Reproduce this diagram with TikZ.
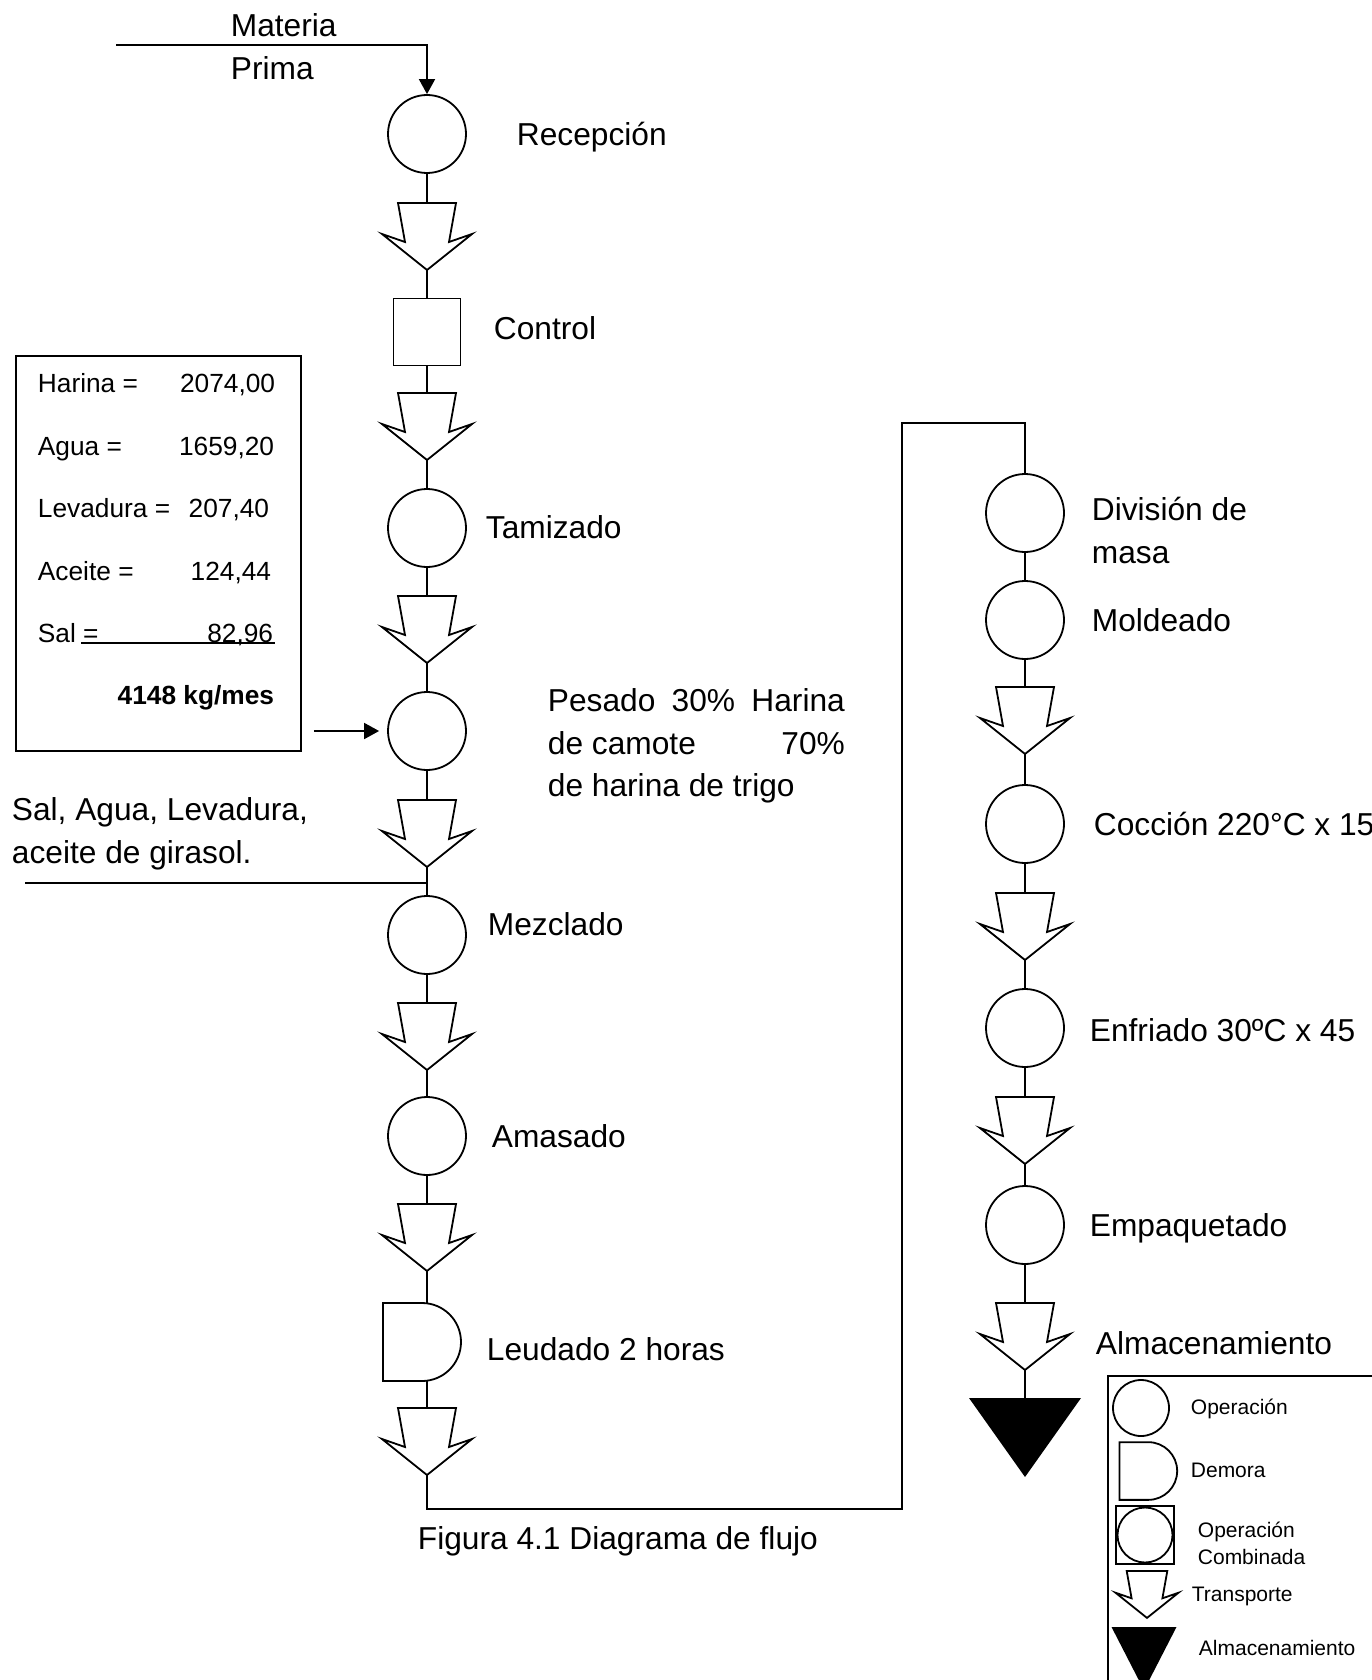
\documentclass[tikz,border=0pt]{standalone}
\usepackage{fontspec}
\setmainfont{Liberation Sans}
\usetikzlibrary{arrows.meta}

\begin{document}
\begin{tikzpicture}[x=1pt, y=-1pt, line width=1.8pt,
        op/.style={circle, draw, minimum size=78pt, inner sep=0pt},
        ctl/.style={rectangle, draw, minimum size=67pt, inner sep=0pt},
        lbl/.style={anchor=west, inner sep=0pt, text height=22.7pt, text depth=0pt,
                    font=\fontsize{31.7}{38}\selectfont},
        tab/.style={lbl, text height=18.8pt, font=\fontsize{26.3}{31}\selectfont},
        ley/.style={lbl, text height=15pt, font=\fontsize{21}{25}\selectfont},
        flecha/.style={-{Triangle[length=15pt,width=16pt]}},
        transp/.pic={
          \draw (-29,0) -- (-22,39) -- (-45,31) -- (0,67) -- (45,31) -- (22,39) -- (29,0) -- cycle;
          \coordinate (-n) at (0,0);
          \coordinate (-s) at (0,67);
        },
        demora/.pic={
          \draw (-44,-39) -- (-5,-39) arc[start angle=90, end angle=-90, radius=39pt] -- (-44,39) -- cycle;
          \coordinate (-n) at (0,-39);
          \coordinate (-s) at (0,39);
        },
        almac/.pic={
          \fill (-56,0) -- (56,0) -- (0,79) -- cycle;
          \coordinate (-n) at (0,0);
        }]
      \path[fill=white, use as bounding box] (0,0) rectangle (1371,1680);

      % columna izquierda
      \node[op] (rec) at (427,134) {};
      \pic (t1) at (427,203) {transp};
      \node[ctl] (ctrl) at (427,332) {};
      \pic (t2) at (427,393) {transp};
      \node[op] (tam) at (427,528) {};
      \pic (t3) at (427,596) {transp};
      \node[op] (pes) at (427,731) {};
      \pic (t4) at (427,800) {transp};
      \node[op] (mez) at (427,935) {};
      \pic (t5) at (427,1003) {transp};
      \node[op] (ama) at (427,1136) {};
      \pic (t6) at (427,1204) {transp};
      \pic (leu) at (427,1342) {demora};
      \pic (t7) at (427,1408) {transp};

      % columna derecha
      \node[op] (div) at (1025,513) {};
      \node[op] (mol) at (1025,620) {};
      \pic (t8) at (1025,687) {transp};
      \node[op] (coc) at (1025,824) {};
      \pic (t9) at (1025,893) {transp};
      \node[op] (enf) at (1025,1028) {};
      \pic (t10) at (1025,1097) {transp};
      \node[op] (emp) at (1025,1225) {};
      \pic (t11) at (1025,1303) {transp};
      \pic (alm) at (1025,1398) {almac};

      \coordinate (mp) at (116,45);
      \coordinate (sal) at (25,883);
      \coordinate (rb) at (902,1509);
      \coordinate (rt) at (1025,423);

      \draw[flecha] (mp) -| (rec.north);
      \draw (rec.south) -- (t1-n);
      \draw (t1-s) -- (ctrl.north);
      \draw (ctrl.south) -- (t2-n);
      \draw (t2-s) -- (tam.north);
      \draw (tam.south) -- (t3-n);
      \draw (t3-s) -- (pes.north);
      \draw (pes.south) -- (t4-n);
      \draw (t4-s) -- (mez.north);
      \draw (mez.south) -- (t5-n);
      \draw (t5-s) -- (ama.north);
      \draw (ama.south) -- (t6-n);
      \draw (t6-s) -- (leu-n);
      \draw (leu-s) -- (t7-n);
      \draw (t7-s) |- (rb) |- (rt) -- (div.north);
      \draw (div.south) -- (mol.north);
      \draw (mol.south) -- (t8-n);
      \draw (t8-s) -- (coc.north);
      \draw (coc.south) -- (t9-n);
      \draw (t9-s) -- (enf.north);
      \draw (enf.south) -- (t10-n);
      \draw (t10-s) -- (emp.north);
      \draw (emp.south) -- (t11-n);
      \draw (t11-s) -- (alm-n);
      \draw (sal) -- (sal -| mez);

      % textos
      \node[lbl] (tmat) at (230,25) {Materia};
      \node[lbl] (tpri) at (230,68) {Prima};
      \node[lbl] (trec) at (516,134) {Recepción};
      \node[lbl] (tctrl) at (493,328) {Control};
      \node[lbl] (ttam) at (485,527) {Tamizado};
      \node[lbl] (tpes1) at (547,700) {\makebox[297pt][s]{Pesado 30\% Harina}};
      \node[lbl] (tpes2) at (547,743) {\makebox[297pt][l]{de camote\hfill 70\%}};
      \node[lbl] (tpes3) at (547,785) {de harina de trigo};
      \node[lbl] (tsal1) at (11,809) {Sal, Agua, Levadura,};
      \node[lbl] (tsal2) at (11,852) {aceite de girasol.};
      \node[lbl] (tmez) at (487,924) {Mezclado};
      \node[lbl] (tama) at (491,1136) {Amasado};
      \node[lbl] (tleu) at (486,1349) {Leudado 2 horas};
      \node[lbl] (tfig) at (417,1538) {Figura 4.1 Diagrama de flujo};
      \node[lbl] (tdiv1) at (1091,509) {División de};
      \node[lbl] (tdiv2) at (1091,552) {masa};
      \node[lbl] (tmol) at (1091,620) {Moldeado};
      \node[lbl] (tcoc) at (1093,824) {Cocción 220°C x 15};
      \node[lbl] (tenf) at (1089,1030) {Enfriado 30ºC x 45};
      \node[lbl] (temp) at (1089,1225) {Empaquetado};
      \node[lbl] (talm) at (1095,1343) {Almacenamiento};

      % cuadro de cantidades
      \node[draw, anchor=north west, minimum width=285pt, minimum height=395pt, inner sep=0pt] (tabla) at (15,355) {};
      \node[tab] (qhar) at (37,383) {Harina =};
      \node[tab] (qagu) at (37,446) {Agua =};
      \node[tab] (qlev) at (37,508) {Levadura =};
      \node[tab] (qace) at (37,571) {Aceite =};
      \node[tab] (qsal) at (37,633) {Sal =};
      \node[tab, anchor=east] (vhar) at (276,383) {2074,00};
      \node[tab, anchor=east] (vagu) at (275,446) {1659,20};
      \node[tab, anchor=east] (vlev) at (270,508) {207,40};
      \node[tab, anchor=east] (vace) at (272,571) {124,44};
      \node[tab, anchor=east] (vsal) at (274,633) {82,96};
      \node[tab, anchor=east] (vtot) at (275,695) {\bfseries 4148 kg/mes};
      \draw (81,643) -- (275,643);
      \draw[flecha, shorten <=12pt, shorten >=8pt] (tabla.east |- pes.west) -- (pes.west);

      % leyenda
      \node[draw, anchor=north west, minimum width=300pt, minimum height=330pt, inner sep=0pt] (leyenda) at (1107,1375) {};
      \node[op, minimum size=56pt] (lop) at (1141,1408) {};
      \pic[scale=0.74] (ldem) at (1152,1471) {demora};
      \node[ctl, minimum size=58pt] (lcua) at (1145,1535) {};
      \node[op, minimum size=55pt] (lcir) at (1145,1535) {};
      \pic[scale=0.7] (ltra) at (1147,1571) {transp};
      \pic[xscale=0.58, yscale=0.8] (lalm) at (1144,1627) {almac};
      \node[ley] (xop) at (1190,1407) {Operación};
      \node[ley] (xdem) at (1190,1470) {Demora};
      \node[ley] (xcom1) at (1197,1530) {Operación};
      \node[ley] (xcom2) at (1197,1557) {Combinada};
      \node[ley] (xtra) at (1191,1594) {Transporte};
      \node[ley] (xalm) at (1198,1648) {Almacenamiento};
    \end{tikzpicture}
\end{document}
